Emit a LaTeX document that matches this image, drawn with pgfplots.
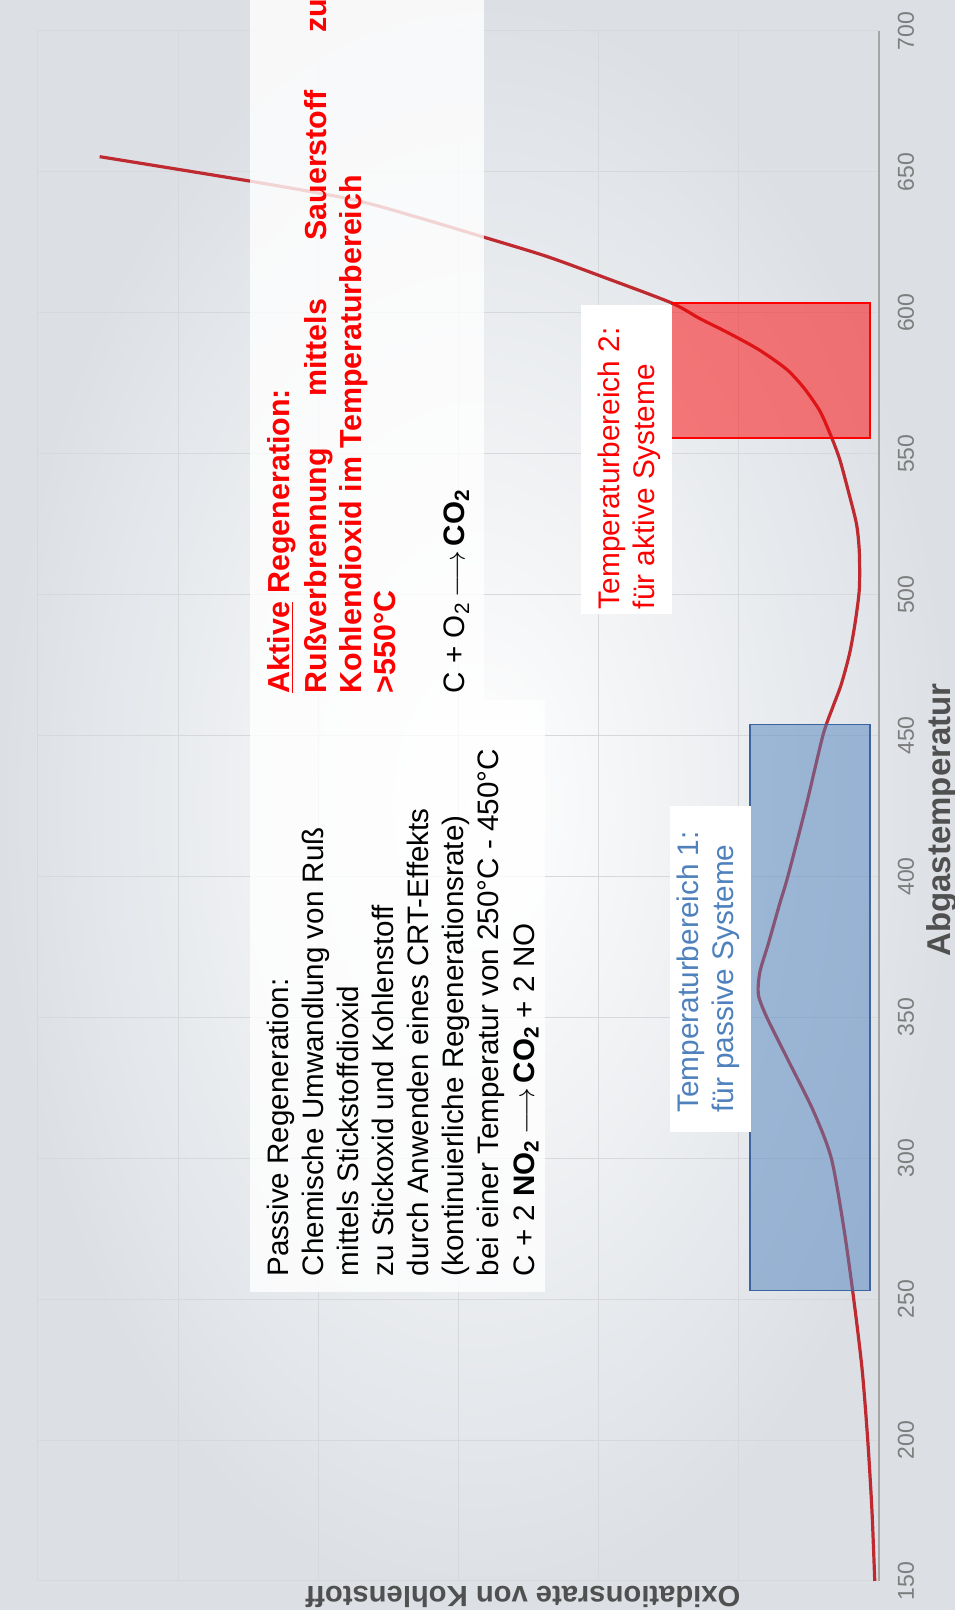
\documentclass[border=0pt]{standalone}
\usepackage{fontspec}
\setmainfont{Liberation Sans}
\usepackage{graphicx}
\usepackage{pgfplots}
\pgfplotsset{compat=1.18}
\definecolor{curvered}{RGB}{190,42,48}
\definecolor{gridgray}{RGB}{214,216,220}
\definecolor{tickgray}{RGB}{125,125,125}
\definecolor{labelgray}{RGB}{80,80,80}
\definecolor{boxblue}{RGB}{79,129,189}
\definecolor{boxblueedge}{RGB}{60,100,160}
\definecolor{bgouter}{RGB}{220,224,229}
\definecolor{txtblue}{RGB}{79,129,189}
\definecolor{txtred}{RGB}{255,0,0}
\definecolor{axisgray}{RGB}{165,165,165}
\begin{document}
\rotatebox{90}{%
\begin{tikzpicture}
\begin{axis}[
  set layers=standard,
  scale only axis,
  width=775pt, height=420.5pt,
  xmin=150, xmax=700, ymin=0, ymax=6,
  xtick={150,200,...,700},
  ytick={0,1,...,6},
  yticklabel style={text opacity=0},
  grid=major,
  major grid style={draw=gridgray, line width=0.5pt},
  major tick length=0pt,
  axis line style={draw=gridgray, line width=0.5pt},
  /pgf/number format/assume math mode=true,
  xticklabel style={font=\fontsize{11.5}{13}\selectfont, text=tickgray, anchor=center, yshift=-13.5pt},
  clip=false,
  xlabel={Abgastemperatur},
  ylabel={Oxidationsrate von Kohlenstoff},
  xlabel style={at={(axis description cs:0.4909,-0.0748)}, anchor=center, font=\bfseries\fontsize{16.5}{18}\selectfont, text=labelgray},
  ylabel style={at={(axis description cs:-0.0104,0.4233)}, anchor=center, font=\bfseries\fontsize{14.6}{16}\selectfont, text=labelgray},
]
\begin{pgfonlayer}{axis background}
\shade[inner color=white, outer color=bgouter] (axis cs:139.7,-0.542) rectangle (axis cs:711,6.271);
\end{pgfonlayer}
\coordinate (bbA) at (axis cs:139.7,-0.542);
\coordinate (bbB) at (axis cs:711,6.271);

\draw[axisgray, line width=0.6pt] (rel axis cs:0,0) -- (rel axis cs:1,0);

\addplot[curvered, line width=1.6pt, smooth, tension=0.45] coordinates {
(150,0.03) (175,0.05) (200,0.08) (225,0.12) (250,0.18) (275,0.25) (300,0.34)
(317,0.47) (335,0.65) (350,0.80) (358,0.86) (366,0.85) (376,0.79) (390,0.71)
(400,0.65) (425,0.52) (450,0.40) (460,0.33) (468,0.27) (479,0.21) (490,0.17)
(502,0.14) (515,0.14) (525,0.16) (537,0.22) (548,0.28) (556,0.34) (565,0.42)
(573,0.53) (580,0.66) (587,0.86) (593,1.08) (598,1.28) (603.5,1.48) (612,1.93)
(620,2.37) (627,2.83) (634,3.30) (640,3.74) (646,4.40) (655.4,5.56)
};

% translucent white text panels
\fill[white, opacity=0.8] (axis cs:462.6,2.818) rectangle (axis cs:711,4.488);
\fill[white, opacity=0.8] (axis cs:252.6,2.383) rectangle (axis cs:462.6,4.488);

% temperature ranges
\filldraw[fill=boxblue, fill opacity=0.5, draw=boxblueedge, line width=0.6pt] (axis cs:253,0.064) rectangle (axis cs:454,0.92);
\filldraw[fill=red, fill opacity=0.5, draw=red, line width=0.6pt] (axis cs:555.6,0.064) rectangle (axis cs:603.5,1.48);

% label backgrounds
\fill[white] (axis cs:309.3,0.913) rectangle (axis cs:425,1.491);
\fill[white] (axis cs:493,1.48) rectangle (axis cs:602.8,2.126);

% passive text
\begin{scope}[every node/.style={anchor=base west, inner sep=0pt, font=\fontsize{14.8}{17}\selectfont}]
\node at (axis cs:258,4.212) {Passive Regeneration:};
\node at (axis cs:258,3.962) {Chemische Umwandlung von Ruß};
\node at (axis cs:258,3.712) {mittels Stickstoffdioxid};
\node at (axis cs:258,3.461) {zu Stickoxid und Kohlenstoff};
\node at (axis cs:258,3.211) {durch Anwenden eines CRT-Effekts};
\node at (axis cs:258,2.961) {(kontinuierliche Regenerationsrate)};
\node at (axis cs:258,2.711) {bei einer Temperatur von 250°C - 450°C};
\node at (axis cs:258,2.461) {C + 2 \textbf{NO\textsubscript{2}}\,$\longrightarrow$\,\textbf{CO\textsubscript{2}} + 2 NO};
\node at (axis cs:464.9,2.956) {C + O\textsubscript{2}\,$\longrightarrow$\,\textbf{CO\textsubscript{2}}};
\end{scope}

% active text
\begin{scope}[every node/.style={anchor=base west, inner sep=0pt, text=txtred, font=\bfseries\fontsize{15.2}{17}\selectfont}]
\node at (axis cs:464.9,4.207) {\underline{Aktive} Regeneration:};
\node at (axis cs:464.9,3.943) {Rußverbrennung};
\node at (axis cs:570.0,3.943) {mittels};
\node at (axis cs:625.5,3.943) {Sauerstoff};
\node at (axis cs:699.2,3.943) {zu};
\node at (axis cs:464.9,3.689) {Kohlendioxid im Temperaturbereich};
\node at (axis cs:464.9,3.448) {>550°C};
\end{scope}

% range labels
\begin{scope}[every node/.style={anchor=base west, inner sep=0pt, font=\fontsize{14.9}{17}\selectfont}]
\node[text=txtred] at (axis cs:494.7,1.850) {Temperaturbereich 2:};
\node[text=txtred] at (axis cs:494.7,1.602) {für aktive Systeme};
\node[text=txtblue] at (axis cs:316,1.288) {Temperaturbereich 1:};
\node[text=txtblue] at (axis cs:316,1.038) {für passive Systeme};
\end{scope}
\end{axis}
\pgfresetboundingbox
\path[use as bounding box] (bbA) rectangle (bbB);
\end{tikzpicture}%
}
\end{document}
